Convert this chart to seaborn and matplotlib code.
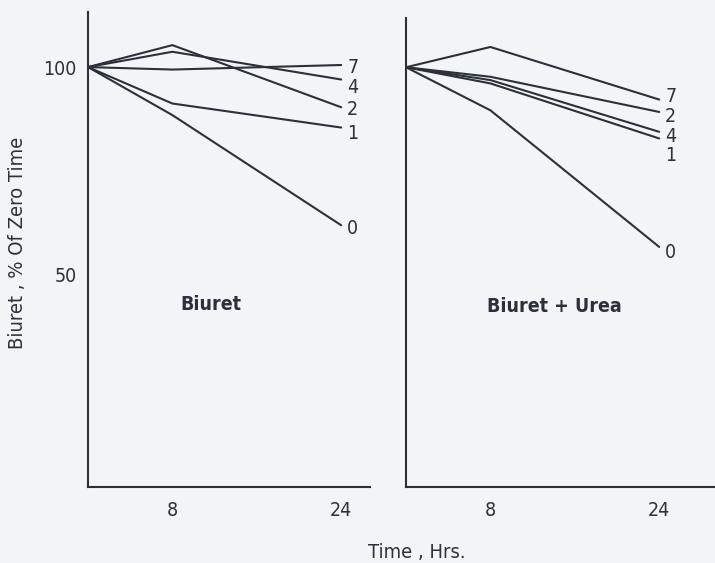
import numpy as np
import pandas as pd
import matplotlib
matplotlib.use('Agg')
import matplotlib.pyplot as plt
import seaborn as sns

# data
hours = [0, 8, 24]
series = ['7', '4', '2', '1', '0']

biuret_7 = [100, 99.4, 100.5]
biuret_4 = [100, 103.7, 97.0]
biuret_2 = [100, 105.3, 90.3]
biuret_1 = [100, 91.2, 85.4]
biuret_0 = [100, 88.4, 61.8]

urea_7 = [100, 104.9, 92.2]
urea_4 = [100, 96.9, 84.4]
urea_2 = [100, 97.7, 89.2]
urea_1 = [100, 96.1, 82.8]
urea_0 = [100, 89.6, 56.6]

y_ticks = [50, 100]
x_ticks = [8, 24]


def to_long(vals):
    rows = []
    for s, v in zip(series, vals):
        for t, y in zip(hours, v):
            rows.append({'series': s, 'hours': t, 'value': y})
    return pd.DataFrame(rows)


df_left = to_long([biuret_7, biuret_4, biuret_2, biuret_1, biuret_0])
df_right = to_long([urea_7, urea_4, urea_2, urea_1, urea_0])

sns.set_style('white')
plt.rcParams['font.family'] = ['DejaVu Sans']
plt.rcParams['font.stretch'] = 'condensed'

bg = '#f3f4f8'
ink = '#2b303a'

fig = plt.figure(figsize=(7.15, 5.63), dpi=100, facecolor=bg)
ax1 = fig.add_axes([88/715, 76/563, 282/715, 475/563])
ax2 = fig.add_axes([406/715, 76/563, 309/715, 469/563])

pal = {s: ink for s in series}

# label offsets (pixels) so numbers sit next to line ends like the original
left_offsets = {'7': -2, '4': -8, '2': -2, '1': -6, '0': -3}
right_offsets = {'7': 3, '2': -5, '4': -5, '1': -17, '0': -6}

for ax, df, offs, ytop, title, tx in [
        (ax1, df_left, left_offsets, 113.3, 'Biuret', 0.436),
        (ax2, df_right, right_offsets, 111.9, 'Biuret + Urea', 0.48)]:
    ax.set_facecolor(bg)
    sns.lineplot(data=df, x='hours', y='value', hue='series', palette=pal,
                 legend=False, linewidth=1.5, ax=ax)
    ax.set_xlim(0, (ax.get_position().width * 715) / 10.55)
    ax.set_ylim(-1.4, ytop)
    for s in series:
        end = df[(df.series == s) & (df.hours == 24)].value.iloc[0]
        ax.annotate(s, (24, end), xytext=(6, offs[s]), textcoords='offset pixels',
                    ha='left', va='center', fontsize=14, color=ink)
    ax.text(tx, 0.385, title, transform=ax.transAxes,
            ha='center', va='center', fontsize=14, color=ink, fontweight='semibold')
    for sp in ['top', 'right']:
        ax.spines[sp].set_visible(False)
    for sp in ['left', 'bottom']:
        ax.spines[sp].set_color(ink)
        ax.spines[sp].set_linewidth(1.5)
    ax.set_xticks(x_ticks)
    ax.set_xticklabels([str(t) for t in x_ticks], fontsize=14, color=ink)
    ax.set_yticks(y_ticks)
    ax.tick_params(axis='x', direction='in', length=8, width=1.5, color=ink, pad=10)
    ax.tick_params(axis='y', direction='in', length=5, width=1.5, color=ink, pad=8)
    ax.set_xlabel('')
    ax.set_ylabel('')

ax1.set_yticklabels([str(t) for t in y_ticks], fontsize=14, color=ink)
ax2.set_yticklabels([])

fig.text(18/715, 1 - 243/563, 'Biuret , % Of Zero Time', rotation=90, ha='center',
         va='center', fontsize=14.5, color=ink)
fig.text(417/715, 11/563, 'Time , Hrs.', ha='center', va='center',
         fontsize=14.5, color=ink, fontweight='medium')

fig.savefig('out.png', dpi=100, facecolor=bg)
